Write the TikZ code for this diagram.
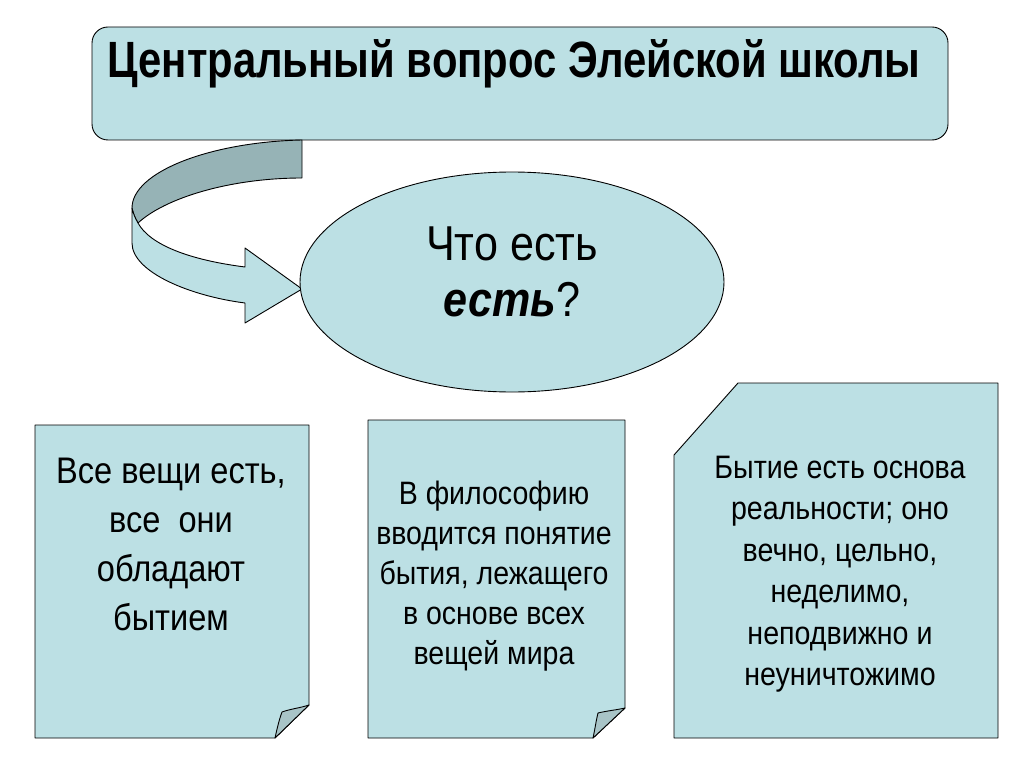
\documentclass[tikz,border=0pt]{standalone}
\usepackage{fontspec}
\setmainfont{Liberation Sans}
\newfontfamily\nf[FakeStretch=0.82]{Liberation Sans}
\newfontfamily\bodyf[FakeStretch=0.88]{Liberation Sans}
\usetikzlibrary{shapes.geometric}
\definecolor{lb}{RGB}{188,224,228}
\definecolor{db}{RGB}{150,179,182}
\definecolor{cb}{RGB}{168,196,199}
\tikzset{
  shp/.style={draw=black, line width=0.9pt, fill=lb, line join=round},
  curl/.style={draw=black, line width=0.9pt, fill=cb, line join=round},
  txt/.style={align=center, inner sep=0pt, text=black}
}
\begin{document}
\begin{tikzpicture}[x=1pt,y=-1pt]
\useasboundingbox (0,0) rectangle (1024,767);
% title box
\draw[shp, rounded corners=16pt] (92,27) rectangle (948,140);
\node[txt, anchor=base, font=\nf\fontsize{51}{56}\selectfont\bfseries] (title) at (514,78) {Центральный вопрос Элейской школы};
% curved arrow: dark upper band
\draw[draw=black, line width=0.9pt, fill=db, line join=round]
  (302,140) .. controls (210,142) and (132,172) .. (132,208)
  .. controls (133,213) and (135,218) .. (138,223)
  .. controls (165,198) and (230,178) .. (302,178) -- cycle;
% light lower band with arrow head
\draw[shp]
  (132,208) -- (132,243) .. controls (132,272) and (190,296) .. (245,303)
  -- (245,323) -- (302,289) -- (245,248) -- (245,267)
  .. controls (190,260) and (150,245) .. (138,223)
  .. controls (135,218) and (133,213) .. (132,208) -- cycle;
% ellipse
\node[shp, ellipse, minimum width=424pt, minimum height=220pt] (q) at (512,282) {};
\node[txt, font=\bodyf\fontsize{49}{56}\selectfont] (qt) at (512,272) {Что есть\\ \textbf{\textit{есть}}?};
% left document
\draw[shp] (35,425) -- (309,425) -- (309,705) -- (275,738) -- (35,738) -- cycle;
\draw[curl] (309,705) .. controls (300,708) and (290,709) .. (282,712) .. controls (279,720) and (277,729) .. (275,738) -- cycle;
\node[txt, font=\bodyf\fontsize{37}{49}\selectfont] (l) at (171,544) {Все вещи есть,\\ все\ \ они\\ обладают\\ бытием};
% middle document
\draw[shp] (368,420) -- (625,420) -- (625,708) -- (593,738) -- (368,738) -- cycle;
\draw[curl] (625,708) .. controls (616,710) and (606,711) .. (598,713) .. controls (596,721) and (595,729) .. (593,738) -- cycle;
\node[txt, font=\bodyf\fontsize{32.4}{40}\selectfont] (m) at (494,576) {В философию\\ вводится понятие\\ бытия, лежащего\\ в основе всех\\ вещей мира};
% right document
\draw[shp] (738,383) -- (998,383) -- (998,738) -- (674,738) -- (674,455) -- cycle;
\node[txt, font=\bodyf\fontsize{32.5}{41.5}\selectfont] (r) at (840,574) {Бытие есть основа\\ реальности; оно\\ вечно, цельно,\\ неделимо,\\ неподвижно и\\ неуничтожимо};
\end{tikzpicture}
\end{document}
